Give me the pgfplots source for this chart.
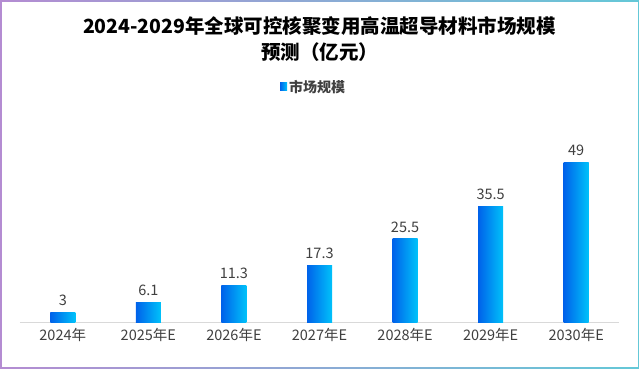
\documentclass[border=0pt]{standalone}
\usepackage{pgfplots}
\pgfplotsset{compat=1.18}
\usepackage{fontspec}
\setmainfont{Noto Sans CJK SC}
\definecolor{bardark}{HTML}{0062EA}
\definecolor{barlight}{HTML}{00C2FA}
\definecolor{txt}{HTML}{404040}
\begin{document}
\begin{tikzpicture}[x=1pt,y=1pt]
\shade[left color={rgb,255:red,180;green,140;blue,210}, right color={rgb,255:red,100;green,200;blue,215}] (0,0) rectangle (639,368);
\fill[white] (1.5,1.5) rectangle (637.5,366.5);
\node[font=\fontsize{19.5}{26}\selectfont\bfseries, align=center, text=black] at (319.5,329) {2024-2029年全球可控核聚变用高温超导材料市场规模\\预测（亿元）};
\begin{axis}[
  at={(20pt,46pt)}, anchor=south west,
  scale only axis, width=599pt, height=222pt,
  xmin=-0.5, xmax=6.5, ymin=0, ymax=68,
  axis x line*=bottom, axis y line=none,
  x axis line style={draw={rgb,255:red,217;green,217;blue,217}, line width=1pt},
  xtick={0,...,6}, major tick length=0pt,
  xticklabels={2024年,2025年E,2026年E,2027年E,2028年E,2029年E,2030年E},
  xticklabel style={font=\fontsize{14.5}{16}\selectfont, text=txt, yshift=-3pt},
  ybar, bar width=25pt, bar shift=0pt,
  nodes near coords,
  nodes near coords style={font=\fontsize{14.5}{16}\selectfont, text=txt, yshift=3pt},
  point meta=explicit symbolic,
  legend style={draw=none, at={(0.49,1)}, anchor=south, yshift=2pt, font=\fontsize{14}{16}\selectfont\bfseries, text=txt},
  legend image code/.code={\fill[bardark!50!barlight] (0pt,-4pt) rectangle (7pt,4pt);},
  every axis plot/.append style={draw=none, left color=bardark, right color=barlight},
]
\addplot coordinates {(0,3) [3]};
\addlegendentry{市场规模}
\addplot coordinates {(1,6.1) [6.1]};
\addplot coordinates {(2,11.3) [11.3]};
\addplot coordinates {(3,17.3) [17.3]};
\addplot coordinates {(4,25.5) [25.5]};
\addplot coordinates {(5,35.5) [35.5]};
\addplot coordinates {(6,49) [49]};
\end{axis}
\end{tikzpicture}
\end{document}
